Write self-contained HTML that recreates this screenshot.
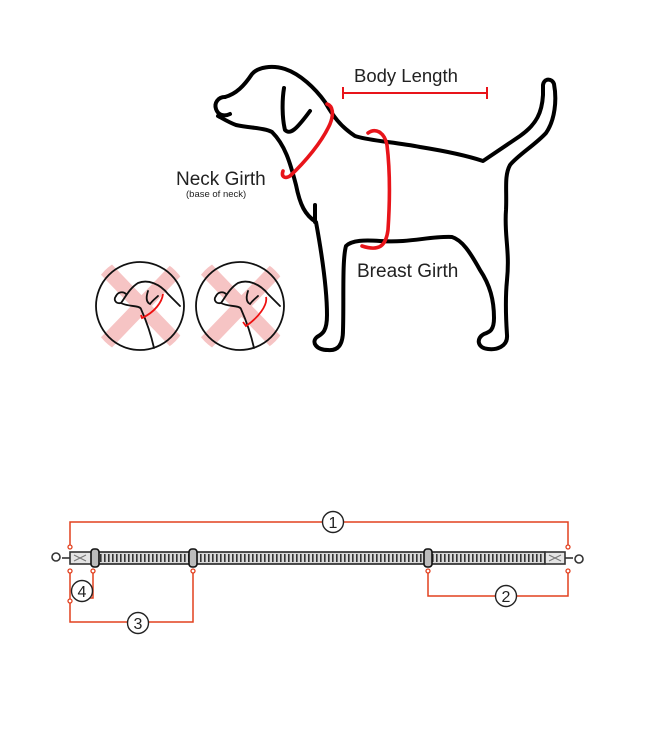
<!DOCTYPE html>
<html><head><meta charset="utf-8"><style>
html,body{margin:0;padding:0;background:#fff;}
svg{display:block;}
text{font-family:"Liberation Sans",sans-serif;}
</style></head><body>
<svg width="650" height="750" viewBox="0 0 650 750" xmlns="http://www.w3.org/2000/svg">
<defs>
 <clipPath id="c1"><circle cx="140" cy="306" r="50"/></clipPath>
 <clipPath id="c2"><circle cx="240" cy="306" r="50"/></clipPath>
 <pattern id="st" width="4" height="12" patternUnits="userSpaceOnUse">
  <rect width="4" height="12" fill="#d8d8d8"/><rect x="0" y="2" width="1.6" height="8" fill="#333"/>
 </pattern>
</defs>
<g clip-path="url(#c1)">
 <line x1="103" y1="266" x2="180" y2="346" stroke="#f6c4c4" stroke-width="15"/>
 <line x1="180" y1="266" x2="103" y2="346" stroke="#f6c4c4" stroke-width="15"/>
</g>
<g clip-path="url(#c2)">
 <line x1="203" y1="266" x2="280" y2="346" stroke="#f6c4c4" stroke-width="15"/>
 <line x1="280" y1="266" x2="203" y2="346" stroke="#f6c4c4" stroke-width="15"/>
</g>
<circle cx="140" cy="306" r="44" fill="none" stroke="#111" stroke-width="1.8"/>
<circle cx="240" cy="306" r="44" fill="none" stroke="#111" stroke-width="1.8"/>
<g fill="none" stroke="#111" stroke-width="1.8" stroke-linecap="round">
 <path d="M116 296 C113 300 116 304 121 303 C126 296 130 288 138 283 C148 279 160 284 168 294 L180 306"/>
 <path d="M116 296 C118 292 123 291 126 294"/>
 <path d="M121 303 C128 307 140 305 141 309 C145 318 150 330 154 348"/>
 <path d="M148 291 C146 297 146 302 150 304 C153 300 156 298 158 296"/>
 <path d="M216 296 C213 300 216 304 221 303 C226 296 230 288 238 283 C248 279 260 284 268 294 L280 306"/>
 <path d="M216 296 C218 292 223 291 226 294"/>
 <path d="M221 303 C228 307 240 305 241 309 C245 318 250 330 254 348"/>
 <path d="M248 291 C246 297 246 302 250 304 C253 300 256 298 258 296"/>
</g>
<path d="M163 294 C162 302 155 312 142 318 L141 315" fill="none" stroke="#e11" stroke-width="1.8"/>
<path d="M266 297 C268 305 258 318 246 326 L243 322" fill="none" stroke="#e11" stroke-width="1.8"/>
<!-- dog outline -->
<g fill="none" stroke="#000" stroke-width="4" stroke-linecap="round" stroke-linejoin="round">
 <path d="M225 97 C218 97 214 103 216 109 C218 115 224 117 230 114"/>
 <path d="M225 97 C236 94 244 86 252 74 C258 67 272 65 285 69 C300 74 315 88 325 102 C333 116 340 126 355 136 C370 141 395 142 420 147 C445 151 465 155 483 161 L520 136 C537 124 542 112 543 95 L543 85 C544 78 552 78 554 84 C557 100 555 120 546 133 C535 145 518 155 510 165 C504 176 507 190 506 210 C504 235 510 250 507 280 C505 300 506 320 507 335 C508 347 496 350 488 349 C477 348 476 338 484 334 C490 332 494 330 494 318 C494 300 490 285 480 270 C470 252 462 240 452 237 C430 236 410 243 380 241 C365 240 352 240 346 246 C342 260 344 300 343 330 C343 345 338 351 328 350 C316 350 311 342 317 337 C322 334 327 332 327 315 C327 290 322 255 316 222 C305 215 300 205 296 185 C290 162 285 145 272 132 C265 128 250 128 236 125 C228 122 222 118 218 116"/>
 <path d="M315 205 L315 222"/>
 <path d="M284 88 C282 100 282 118 285 130 C290 135 296 130 310 111"/>
</g>
<g fill="none" stroke="#e8141a" stroke-width="3.6" stroke-linecap="round">
 <path d="M327 104 C333 106 334 114 330 124 C322 142 305 162 290 176 C285 179 281 177 283 171"/>
 <path d="M368 133 C375 128 384 131 387 145 C390 170 390 200 388 230 C386 245 380 252 362 246"/>
</g>
<g stroke="#e8141a" stroke-width="2">
 <line x1="343" y1="93" x2="487" y2="93"/>
 <line x1="343" y1="87" x2="343" y2="99"/>
 <line x1="487" y1="87" x2="487" y2="99"/>
</g>
<text x="354" y="82" font-size="18.5" fill="#222">Body Length</text>
<text x="176" y="185" font-size="19" fill="#222">Neck Girth</text>
<text x="186" y="197" font-size="9.5" fill="#222">(base of neck)</text>
<text x="357" y="277" font-size="19" fill="#222">Breast Girth</text>

<g fill="none" stroke="#e2401f" stroke-width="1.5">
 <path d="M70 547 L70 522 L568 522 L568 547"/>
 <path d="M70 571 L70 622 L193 622 L193 571"/>
 <path d="M93 571 L93 598 L88 598"/>
 <path d="M428 571 L428 596 L568 596 L568 571"/>
</g>
<g fill="#fff" stroke="#e2401f" stroke-width="1.3">
 <circle cx="70" cy="547" r="2"/><circle cx="568" cy="547" r="2"/>
 <circle cx="70" cy="571" r="2"/><circle cx="93" cy="571" r="2"/><circle cx="193" cy="571" r="2"/>
 <circle cx="428" cy="571" r="2"/><circle cx="568" cy="571" r="2"/><circle cx="70" cy="601" r="2"/>
</g>
<g fill="#fff" stroke="#222" stroke-width="1.4">
 <circle cx="333" cy="522" r="10.5"/><circle cx="82" cy="591" r="10.5"/>
 <circle cx="138" cy="623" r="10.5"/><circle cx="506" cy="596" r="10.5"/>
</g>
<g font-size="16" fill="#222" text-anchor="middle">
 <text x="333" y="528">1</text><text x="82" y="597">4</text>
 <text x="138" y="629">3</text><text x="506" y="602">2</text>
</g>
<rect x="95" y="552" width="450" height="12" fill="url(#st)" stroke="#222" stroke-width="1.6"/>
<rect x="70" y="552" width="22" height="12" fill="#e4e4e4" stroke="#333" stroke-width="1.6"/>
<rect x="545" y="552" width="20" height="12" fill="#e4e4e4" stroke="#333" stroke-width="1.6"/>
<path d="M74 555 L86 561 M74 561 L86 555 M549 555 L561 561 M549 561 L561 555" stroke="#777" stroke-width="1"/>
<g fill="#bbb" stroke="#111" stroke-width="1.6">
 <rect x="91" y="549" width="8" height="18" rx="3"/>
 <rect x="189" y="549" width="8" height="18" rx="3"/>
 <rect x="424" y="549" width="8" height="18" rx="3"/>
</g>
<g fill="none" stroke="#333" stroke-width="1.6">
 <line x1="62" y1="558" x2="70" y2="558"/><circle cx="56" cy="557" r="4"/>
 <line x1="565" y1="558" x2="573" y2="558"/><circle cx="579" cy="559" r="4"/>
</g>
</svg>
</body></html>
